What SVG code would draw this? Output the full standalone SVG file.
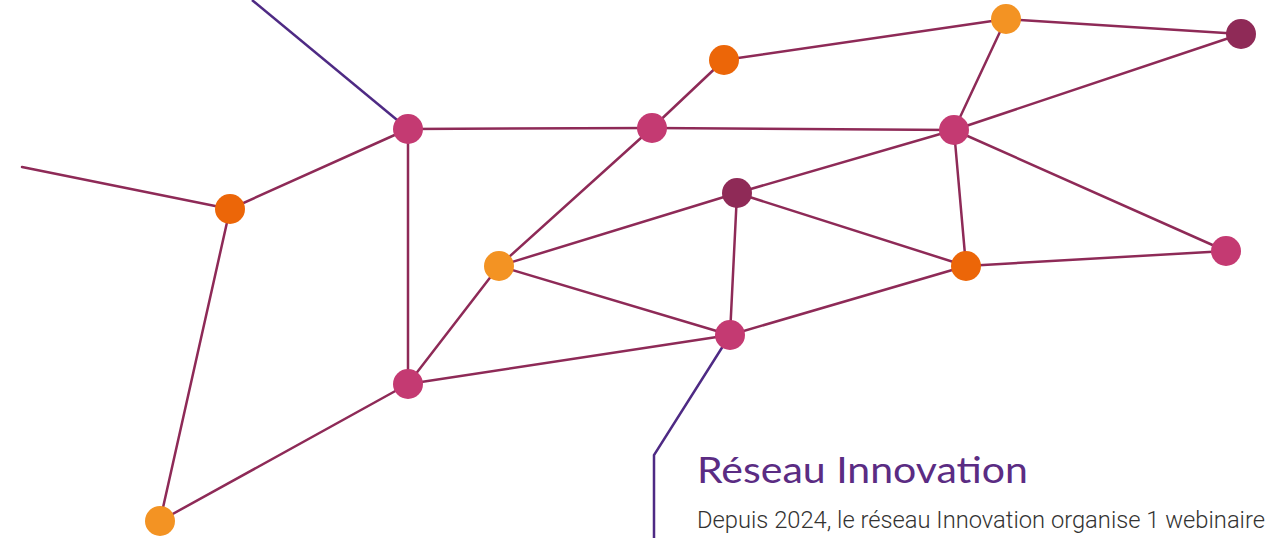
<svg xmlns="http://www.w3.org/2000/svg" width="1279" height="538" viewBox="0 0 1279 538">
<style>
.e{stroke:#8E2A57;stroke-width:2.5;fill:none;stroke-linecap:round}
.p{stroke:#4E2A84;stroke-width:2.5;fill:none}
.pink{fill:#C43A72}
.dark{fill:#8F2A57}
.orange{fill:#EC6608}
.lorange{fill:#F39323}
.title{font-family:"Lato","Noto Sans",sans-serif;font-size:36px;font-weight:400;fill:#5B2C83}
.body{font-family:"Roboto","Liberation Sans",sans-serif;font-size:23px;font-weight:300;fill:#333332}
</style>
<rect width="1279" height="538" fill="#fff"/>
<g id="connectors">
<line class="p" x1="252" y1="0" x2="408" y2="129"/>
<polyline class="p" points="730,335 654,455 654,538"/>
<line class="e" x1="22" y1="167" x2="230" y2="209"/>
<line class="e" x1="230" y1="209" x2="408" y2="129"/>
<line class="e" x1="230" y1="209" x2="160" y2="521"/>
<line class="e" x1="160" y1="521" x2="408" y2="384"/>
<line class="e" x1="408" y1="129" x2="408" y2="384"/>
<line class="e" x1="408" y1="129" x2="652" y2="128"/>
<line class="e" x1="408" y1="384" x2="499" y2="266"/>
<line class="e" x1="408" y1="384" x2="730" y2="335"/>
<line class="e" x1="499" y1="266" x2="652" y2="128"/>
<line class="e" x1="499" y1="266" x2="737" y2="193"/>
<line class="e" x1="499" y1="266" x2="730" y2="335"/>
<line class="e" x1="652" y1="128" x2="724" y2="60"/>
<line class="e" x1="652" y1="128" x2="954" y2="130"/>
<line class="e" x1="724" y1="60" x2="1006" y2="19"/>
<line class="e" x1="1006" y1="19" x2="1241" y2="34"/>
<line class="e" x1="1006" y1="19" x2="954" y2="130"/>
<line class="e" x1="1241" y1="34" x2="954" y2="130"/>
<line class="e" x1="954" y1="130" x2="737" y2="193"/>
<line class="e" x1="954" y1="130" x2="966" y2="266"/>
<line class="e" x1="954" y1="130" x2="1226" y2="251"/>
<line class="e" x1="737" y1="193" x2="966" y2="266"/>
<line class="e" x1="737" y1="193" x2="730" y2="335"/>
<line class="e" x1="966" y1="266" x2="1226" y2="251"/>
<line class="e" x1="966" y1="266" x2="730" y2="335"/>
</g>
<g id="n1"><circle class="pink" cx="408" cy="129" r="15"/></g>
<g id="n2"><circle class="pink" cx="652" cy="128" r="15"/></g>
<g id="n3"><circle class="orange" cx="724" cy="60" r="15"/></g>
<g id="n4"><circle class="lorange" cx="1006" cy="19" r="15"/></g>
<g id="n5"><circle class="dark" cx="1241" cy="34" r="15"/></g>
<g id="n6"><circle class="pink" cx="954" cy="130" r="15"/></g>
<g id="n7"><circle class="dark" cx="737" cy="193" r="15"/></g>
<g id="n8"><circle class="pink" cx="1226" cy="251" r="15"/></g>
<g id="n9"><circle class="orange" cx="966" cy="266" r="15"/></g>
<g id="n10"><circle class="lorange" cx="499" cy="266" r="15"/></g>
<g id="n11"><circle class="pink" cx="730" cy="335" r="15"/></g>
<g id="n12"><circle class="pink" cx="408" cy="384" r="15"/></g>
<g id="n13"><circle class="orange" cx="230" cy="209" r="15"/></g>
<g id="n14"><circle class="lorange" cx="160" cy="521" r="15"/></g>
<g id="label">
<text class="title" x="697" y="483" textLength="331" lengthAdjust="spacingAndGlyphs">Réseau Innovation</text>
<text class="body" x="697" y="528" textLength="568" lengthAdjust="spacingAndGlyphs">Depuis 2024, le réseau Innovation organise 1 webinaire</text>
</g>
</svg>
